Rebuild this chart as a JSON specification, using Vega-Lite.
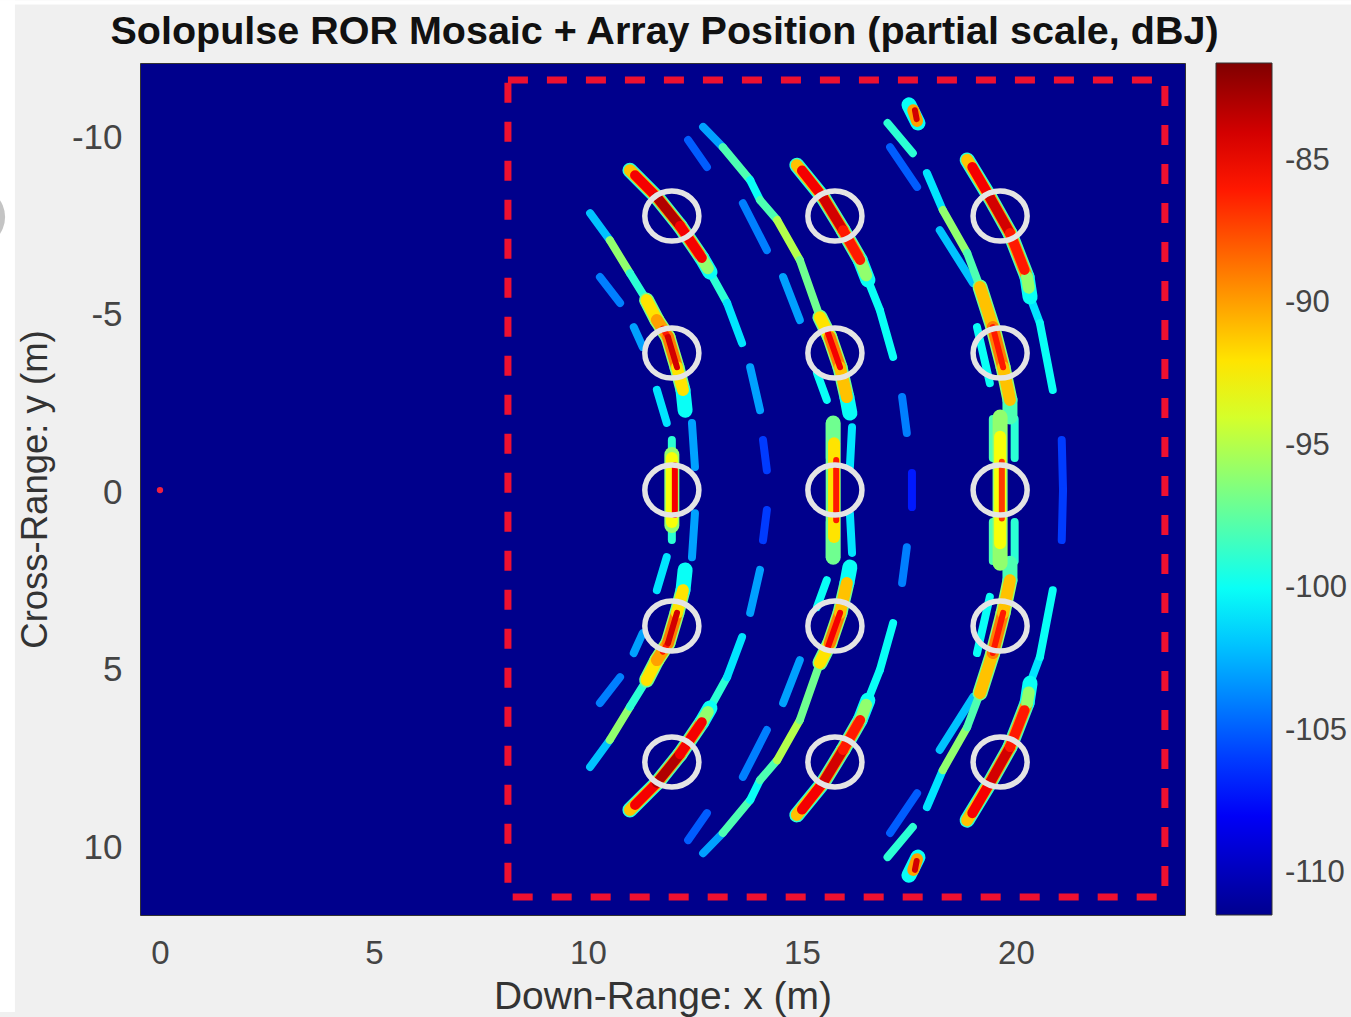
{"$schema":"https://vega.github.io/schema/vega-lite/v6.json","width":1045,"height":852,"autosize":{"type":"none"},"padding":{"left":140,"top":63,"right":166,"bottom":102},"background":"#f0f0f0","view":{"fill":"#00008c","stroke":"#333333"},
"title":{"text":"Solopulse ROR Mosaic + Array Position (partial scale, dBJ)","font":"Liberation Sans","fontSize":39.5,"fontWeight":"bold","color":"#111111","anchor":"middle","offset":-52,"dx":2},
"datasets":{
"side":[
{"x":12.85,"y":-6.14,"x2":13.25,"y2":-5.27,"dB":-99},{"x":13.25,"y":-5.27,"x2":13.6,"y2":-4.14,"dB":-101},{"x":13.79,"y":-3.46,"x2":14.02,"y2":-2.25,"dB":-103},{"x":14.09,"y":-1.41,"x2":14.18,"y2":-0.56,"dB":-106},
{"x":12.85,"y":6.14,"x2":13.25,"y2":5.27,"dB":-99},{"x":13.25,"y":5.27,"x2":13.6,"y2":4.14,"dB":-101},{"x":13.79,"y":3.46,"x2":14.02,"y2":2.25,"dB":-103},{"x":14.09,"y":1.41,"x2":14.18,"y2":0.56,"dB":-106},
{"x":10.28,"y":-6.0,"x2":10.75,"y2":-5.27,"dB":-104},{"x":11.07,"y":-4.59,"x2":11.28,"y2":-4.03,"dB":-103},{"x":11.61,"y":-2.82,"x2":11.84,"y2":-1.89,"dB":-101},{"x":12.43,"y":-1.89,"x2":12.5,"y2":-0.65,"dB":-103},
{"x":10.28,"y":6.0,"x2":10.75,"y2":5.27,"dB":-104},{"x":11.07,"y":4.59,"x2":11.28,"y2":4.03,"dB":-103},{"x":11.61,"y":2.82,"x2":11.84,"y2":1.89,"dB":-101},{"x":12.43,"y":1.89,"x2":12.5,"y2":0.65,"dB":-103},
{"x":10.05,"y":-7.8,"x2":10.51,"y2":-7.04,"dB":-102},{"x":10.51,"y":-7.04,"x2":10.98,"y2":-6.11,"dB":-96},{"x":10.98,"y":-6.11,"x2":11.37,"y2":-5.35,"dB":-99},
{"x":10.05,"y":7.8,"x2":10.51,"y2":7.04,"dB":-102},{"x":10.51,"y":7.04,"x2":10.98,"y2":6.11,"dB":-96},{"x":10.98,"y":6.11,"x2":11.37,"y2":5.35,"dB":-99},
{"x":16.54,"y":-5.92,"x2":16.82,"y2":-5.07,"dB":-100},{"x":16.82,"y":-5.07,"x2":17.13,"y2":-3.75,"dB":-100},{"x":17.34,"y":-2.62,"x2":17.45,"y2":-1.61,"dB":-104},{"x":17.57,"y":-0.48,"x2":17.57,"y2":0.48,"dB":-107},
{"x":16.54,"y":5.92,"x2":16.82,"y2":5.07,"dB":-100},{"x":16.82,"y":5.07,"x2":17.13,"y2":3.75,"dB":-100},{"x":17.34,"y":2.62,"x2":17.45,"y2":1.61,"dB":-104},
{"x":12.34,"y":-9.86,"x2":12.78,"y2":-9.1,"dB":-105},{"x":13.62,"y":-8.08,"x2":14.18,"y2":-6.76,"dB":-104},{"x":14.56,"y":-6.0,"x2":14.95,"y2":-4.79,"dB":-103},{"x":15.35,"y":-3.3,"x2":15.58,"y2":-2.54,"dB":-100},{"x":16.17,"y":-1.77,"x2":16.12,"y2":-0.65,"dB":-101},
{"x":12.34,"y":9.86,"x2":12.78,"y2":9.1,"dB":-105},{"x":13.62,"y":8.08,"x2":14.18,"y2":6.76,"dB":-104},{"x":14.56,"y":6.0,"x2":14.95,"y2":4.79,"dB":-103},{"x":15.35,"y":3.3,"x2":15.58,"y2":2.54,"dB":-100},{"x":16.17,"y":1.77,"x2":16.12,"y2":0.65,"dB":-101},
{"x":12.69,"y":-10.23,"x2":13.15,"y2":-9.66,"dB":-103},{"x":13.15,"y":-9.66,"x2":13.79,"y2":-8.73,"dB":-98},{"x":13.79,"y":-8.73,"x2":14.02,"y2":-8.17,"dB":-100},{"x":14.02,"y":-8.17,"x2":14.42,"y2":-7.61,"dB":-98},{"x":14.42,"y":-7.61,"x2":14.95,"y2":-6.48,"dB":-95},{"x":14.95,"y":-6.48,"x2":15.42,"y2":-4.87,"dB":-97},
{"x":12.69,"y":10.23,"x2":13.15,"y2":9.66,"dB":-103},{"x":13.15,"y":9.66,"x2":13.79,"y2":8.73,"dB":-98},{"x":13.79,"y":8.73,"x2":14.02,"y2":8.17,"dB":-100},{"x":14.02,"y":8.17,"x2":14.42,"y2":7.61,"dB":-98},{"x":14.42,"y":7.61,"x2":14.95,"y2":6.48,"dB":-95},{"x":14.95,"y":6.48,"x2":15.42,"y2":4.87,"dB":-97},
{"x":20.33,"y":-5.44,"x2":20.56,"y2":-4.7,"dB":-101},{"x":20.56,"y":-4.7,"x2":20.86,"y2":-2.82,"dB":-100},{"x":21.07,"y":-1.41,"x2":21.1,"y2":0.0,"dB":-106},
{"x":20.33,"y":5.44,"x2":20.56,"y2":4.7,"dB":-101},{"x":20.56,"y":4.7,"x2":20.86,"y2":2.82,"dB":-100},{"x":21.07,"y":1.41,"x2":21.1,"y2":0.0,"dB":-106},
{"x":18.22,"y":-7.32,"x2":19.0,"y2":-5.83,"dB":-102},{"x":19.09,"y":-4.59,"x2":19.39,"y2":-3.01,"dB":-100},{"x":17.0,"y":-10.34,"x2":17.59,"y2":-9.49,"dB":-99},{"x":17.06,"y":-9.66,"x2":17.69,"y2":-8.54,"dB":-105},
{"x":18.22,"y":7.32,"x2":19.0,"y2":5.83,"dB":-102},{"x":19.09,"y":4.59,"x2":19.39,"y2":3.01,"dB":-100},{"x":17.0,"y":10.34,"x2":17.59,"y2":9.49,"dB":-99},{"x":17.06,"y":9.66,"x2":17.69,"y2":8.54,"dB":-105},
{"x":17.92,"y":-8.93,"x2":18.29,"y2":-7.89,"dB":-101},{"x":18.29,"y":-7.89,"x2":18.86,"y2":-6.68,"dB":-96},{"x":18.86,"y":-6.68,"x2":19.16,"y2":-5.72,"dB":-98},
{"x":17.92,"y":8.93,"x2":18.29,"y2":7.89,"dB":-101},{"x":18.29,"y":7.89,"x2":18.86,"y2":6.68,"dB":-96},{"x":18.86,"y":6.68,"x2":19.16,"y2":5.72,"dB":-98},
{"x":19.46,"y":-2.0,"x2":19.46,"y2":-0.9,"dB":-98},{"x":19.97,"y":-2.0,"x2":19.97,"y2":-0.9,"dB":-99},{"x":19.46,"y":2.0,"x2":19.46,"y2":0.9,"dB":-98},{"x":19.97,"y":2.0,"x2":19.97,"y2":0.9,"dB":-99},
{"x":15.65,"y":-1.89,"x2":15.65,"y2":-0.9,"dB":-99},{"x":15.65,"y":1.89,"x2":15.65,"y2":0.9,"dB":-99},
{"x":11.96,"y":-1.41,"x2":11.96,"y2":-1.0,"dB":-99},{"x":11.96,"y":1.41,"x2":11.96,"y2":1.0,"dB":-99}
],
"wide":[
{"x":10.98,"y":-9.01,"x2":11.61,"y2":-8.25,"dB":-99},{"x":11.61,"y":-8.25,"x2":12.15,"y2":-7.44,"dB":-98},{"x":12.15,"y":-7.44,"x2":12.66,"y2":-6.54,"dB":-98},{"x":12.66,"y":-6.54,"x2":12.85,"y2":-6.14,"dB":-100},
{"x":10.98,"y":9.01,"x2":11.61,"y2":8.25,"dB":-99},{"x":11.61,"y":8.25,"x2":12.15,"y2":7.44,"dB":-98},{"x":12.15,"y":7.44,"x2":12.66,"y2":6.54,"dB":-98},{"x":12.66,"y":6.54,"x2":12.85,"y2":6.14,"dB":-100},
{"x":14.88,"y":-9.15,"x2":15.49,"y2":-8.25,"dB":-99},{"x":15.49,"y":-8.25,"x2":15.96,"y2":-7.32,"dB":-98},{"x":15.96,"y":-7.32,"x2":16.36,"y2":-6.48,"dB":-98},{"x":16.36,"y":-6.48,"x2":16.54,"y2":-5.92,"dB":-100},
{"x":14.88,"y":9.15,"x2":15.49,"y2":8.25,"dB":-99},{"x":15.49,"y":8.25,"x2":15.96,"y2":7.32,"dB":-98},{"x":15.96,"y":7.32,"x2":16.36,"y2":6.48,"dB":-98},{"x":16.36,"y":6.48,"x2":16.54,"y2":5.92,"dB":-100},
{"x":18.86,"y":-9.3,"x2":19.39,"y2":-8.25,"dB":-99},{"x":19.39,"y":-8.25,"x2":19.86,"y2":-7.24,"dB":-98},{"x":19.86,"y":-7.24,"x2":20.26,"y2":-6.0,"dB":-98},{"x":20.26,"y":-6.0,"x2":20.33,"y2":-5.44,"dB":-100},
{"x":18.86,"y":9.3,"x2":19.39,"y2":8.25,"dB":-99},{"x":19.39,"y":8.25,"x2":19.86,"y2":7.24,"dB":-98},{"x":19.86,"y":7.24,"x2":20.26,"y2":6.0,"dB":-98},{"x":20.26,"y":6.0,"x2":20.33,"y2":5.44,"dB":-100},
{"x":11.37,"y":-5.35,"x2":11.61,"y2":-4.79,"dB":-97},{"x":11.61,"y":-4.79,"x2":11.87,"y2":-4.31,"dB":-96},{"x":11.87,"y":-4.31,"x2":12.08,"y2":-3.46,"dB":-96},{"x":12.08,"y":-3.46,"x2":12.22,"y2":-2.82,"dB":-97},{"x":12.22,"y":-2.82,"x2":12.27,"y2":-2.25,"dB":-100},
{"x":11.37,"y":5.35,"x2":11.61,"y2":4.79,"dB":-97},{"x":11.61,"y":4.79,"x2":11.87,"y2":4.31,"dB":-96},{"x":11.87,"y":4.31,"x2":12.08,"y2":3.46,"dB":-96},{"x":12.08,"y":3.46,"x2":12.22,"y2":2.82,"dB":-97},{"x":12.22,"y":2.82,"x2":12.27,"y2":2.25,"dB":-100},
{"x":15.42,"y":-4.87,"x2":15.65,"y2":-4.31,"dB":-97},{"x":15.65,"y":-4.31,"x2":15.89,"y2":-3.46,"dB":-96},{"x":15.89,"y":-3.46,"x2":16.05,"y2":-2.62,"dB":-97},{"x":16.05,"y":-2.62,"x2":16.12,"y2":-2.17,"dB":-100},
{"x":15.42,"y":4.87,"x2":15.65,"y2":4.31,"dB":-97},{"x":15.65,"y":4.31,"x2":15.89,"y2":3.46,"dB":-96},{"x":15.89,"y":3.46,"x2":16.05,"y2":2.62,"dB":-97},{"x":16.05,"y":2.62,"x2":16.12,"y2":2.17,"dB":-100},
{"x":19.16,"y":-5.72,"x2":19.46,"y2":-4.59,"dB":-97},{"x":19.46,"y":-4.59,"x2":19.7,"y2":-3.46,"dB":-96},{"x":19.7,"y":-3.46,"x2":19.86,"y2":-2.54,"dB":-96},{"x":19.86,"y":-2.54,"x2":19.86,"y2":-2.06,"dB":-98},
{"x":19.16,"y":5.72,"x2":19.46,"y2":4.59,"dB":-97},{"x":19.46,"y":4.59,"x2":19.7,"y2":3.46,"dB":-96},{"x":19.7,"y":3.46,"x2":19.86,"y2":2.54,"dB":-96},{"x":19.86,"y":2.54,"x2":19.86,"y2":2.06,"dB":-98},
{"x":11.96,"y":-1.0,"x2":11.96,"y2":1.0,"dB":-96},{"x":15.73,"y":-1.89,"x2":15.73,"y2":1.89,"dB":-97},{"x":19.63,"y":-2.06,"x2":19.63,"y2":2.06,"dB":-96},
{"x":17.5,"y":-10.85,"x2":17.71,"y2":-10.34,"dB":-100},{"x":17.5,"y":10.85,"x2":17.71,"y2":10.34,"dB":-100}
],
"mid":[
{"x":10.98,"y":-9.01,"x2":11.61,"y2":-8.25,"dB":-91},{"x":11.61,"y":-8.25,"x2":12.15,"y2":-7.44,"dB":-90},{"x":12.15,"y":-7.44,"x2":12.66,"y2":-6.54,"dB":-90},{"x":12.66,"y":-6.54,"x2":12.8,"y2":-6.25,"dB":-96},
{"x":10.98,"y":9.01,"x2":11.61,"y2":8.25,"dB":-91},{"x":11.61,"y":8.25,"x2":12.15,"y2":7.44,"dB":-90},{"x":12.15,"y":7.44,"x2":12.66,"y2":6.54,"dB":-90},{"x":12.66,"y":6.54,"x2":12.8,"y2":6.25,"dB":-96},
{"x":14.88,"y":-9.15,"x2":15.49,"y2":-8.25,"dB":-91},{"x":15.49,"y":-8.25,"x2":15.96,"y2":-7.32,"dB":-90},{"x":15.96,"y":-7.32,"x2":16.36,"y2":-6.48,"dB":-90},{"x":16.36,"y":-6.48,"x2":16.5,"y2":-6.05,"dB":-96},
{"x":14.88,"y":9.15,"x2":15.49,"y2":8.25,"dB":-91},{"x":15.49,"y":8.25,"x2":15.96,"y2":7.32,"dB":-90},{"x":15.96,"y":7.32,"x2":16.36,"y2":6.48,"dB":-90},{"x":16.36,"y":6.48,"x2":16.5,"y2":6.05,"dB":-96},
{"x":18.86,"y":-9.3,"x2":19.39,"y2":-8.25,"dB":-91},{"x":19.39,"y":-8.25,"x2":19.86,"y2":-7.24,"dB":-90},{"x":19.86,"y":-7.24,"x2":20.26,"y2":-6.0,"dB":-90},{"x":20.26,"y":-6.0,"x2":20.3,"y2":-5.7,"dB":-96},
{"x":18.86,"y":9.3,"x2":19.39,"y2":8.25,"dB":-91},{"x":19.39,"y":8.25,"x2":19.86,"y2":7.24,"dB":-90},{"x":19.86,"y":7.24,"x2":20.26,"y2":6.0,"dB":-90},{"x":20.26,"y":6.0,"x2":20.3,"y2":5.7,"dB":-96},
{"x":11.37,"y":-5.35,"x2":11.61,"y2":-4.79,"dB":-92},{"x":11.61,"y":-4.79,"x2":11.87,"y2":-4.31,"dB":-90},{"x":11.87,"y":-4.31,"x2":12.08,"y2":-3.46,"dB":-89},{"x":12.08,"y":-3.46,"x2":12.22,"y2":-2.82,"dB":-92},
{"x":11.37,"y":5.35,"x2":11.61,"y2":4.79,"dB":-92},{"x":11.61,"y":4.79,"x2":11.87,"y2":4.31,"dB":-90},{"x":11.87,"y":4.31,"x2":12.08,"y2":3.46,"dB":-89},{"x":12.08,"y":3.46,"x2":12.22,"y2":2.82,"dB":-92},
{"x":15.42,"y":-4.87,"x2":15.65,"y2":-4.31,"dB":-92},{"x":15.65,"y":-4.31,"x2":15.89,"y2":-3.46,"dB":-89},{"x":15.89,"y":-3.46,"x2":16.05,"y2":-2.62,"dB":-91},
{"x":15.42,"y":4.87,"x2":15.65,"y2":4.31,"dB":-92},{"x":15.65,"y":4.31,"x2":15.89,"y2":3.46,"dB":-89},{"x":15.89,"y":3.46,"x2":16.05,"y2":2.62,"dB":-91},
{"x":19.16,"y":-5.72,"x2":19.46,"y2":-4.59,"dB":-91},{"x":19.46,"y":-4.59,"x2":19.7,"y2":-3.46,"dB":-89},{"x":19.7,"y":-3.46,"x2":19.86,"y2":-2.54,"dB":-91},
{"x":19.16,"y":5.72,"x2":19.46,"y2":4.59,"dB":-91},{"x":19.46,"y":4.59,"x2":19.7,"y2":3.46,"dB":-89},{"x":19.7,"y":3.46,"x2":19.86,"y2":2.54,"dB":-91},
{"x":11.96,"y":-0.9,"x2":11.96,"y2":0.9,"dB":-93},{"x":15.75,"y":-1.32,"x2":15.75,"y2":1.32,"dB":-92},{"x":19.63,"y":-1.5,"x2":19.63,"y2":1.5,"dB":-93},
{"x":17.6,"y":-10.7,"x2":17.69,"y2":-10.4,"dB":-90},{"x":17.6,"y":10.7,"x2":17.69,"y2":10.4,"dB":-90}
],
"core":[
{"x":11.1,"y":-8.87,"x2":11.61,"y2":-8.25,"dB":-85},{"x":11.61,"y":-8.25,"x2":12.15,"y2":-7.44,"dB":-83},{"x":12.15,"y":-7.44,"x2":12.66,"y2":-6.54,"dB":-85},
{"x":11.1,"y":8.87,"x2":11.61,"y2":8.25,"dB":-85},{"x":11.61,"y":8.25,"x2":12.15,"y2":7.44,"dB":-83},{"x":12.15,"y":7.44,"x2":12.66,"y2":6.54,"dB":-85},
{"x":15.0,"y":-9.0,"x2":15.49,"y2":-8.25,"dB":-85},{"x":15.49,"y":-8.25,"x2":15.96,"y2":-7.32,"dB":-84},{"x":15.96,"y":-7.32,"x2":16.36,"y2":-6.48,"dB":-86},
{"x":15.0,"y":9.0,"x2":15.49,"y2":8.25,"dB":-85},{"x":15.49,"y":8.25,"x2":15.96,"y2":7.32,"dB":-84},{"x":15.96,"y":7.32,"x2":16.36,"y2":6.48,"dB":-86},
{"x":18.98,"y":-9.1,"x2":19.39,"y2":-8.25,"dB":-85},{"x":19.39,"y":-8.25,"x2":19.86,"y2":-7.24,"dB":-84},{"x":19.86,"y":-7.24,"x2":20.2,"y2":-6.2,"dB":-86},
{"x":18.98,"y":9.1,"x2":19.39,"y2":8.25,"dB":-85},{"x":19.39,"y":8.25,"x2":19.86,"y2":7.24,"dB":-84},{"x":19.86,"y":7.24,"x2":20.2,"y2":6.2,"dB":-86}
],
"slim":[
{"x":11.75,"y":-4.55,"x2":11.87,"y2":-4.31,"dB":-86},{"x":11.87,"y":-4.31,"x2":12.08,"y2":-3.46,"dB":-84},{"x":11.75,"y":4.55,"x2":11.87,"y2":4.31,"dB":-86},{"x":11.87,"y":4.31,"x2":12.08,"y2":3.46,"dB":-84},
{"x":15.6,"y":-4.45,"x2":15.89,"y2":-3.46,"dB":-85},{"x":15.6,"y":4.45,"x2":15.89,"y2":3.46,"dB":-85},
{"x":19.46,"y":-4.59,"x2":19.7,"y2":-3.46,"dB":-86},{"x":19.46,"y":4.59,"x2":19.7,"y2":3.46,"dB":-86},
{"x":12.03,"y":-0.7,"x2":12.03,"y2":0.7,"dB":-85},{"x":15.8,"y":-0.85,"x2":15.8,"y2":0.85,"dB":-86},{"x":19.67,"y":-0.8,"x2":19.67,"y2":0.8,"dB":-87},
{"x":17.64,"y":-10.7,"x2":17.68,"y2":-10.45,"dB":-84},{"x":17.64,"y":10.7,"x2":17.68,"y2":10.45,"dB":-84}
],
"elements":[
{"x":11.96,"y":-7.72},{"x":11.96,"y":-3.86},{"x":11.96,"y":0},{"x":11.96,"y":3.83},{"x":11.96,"y":7.66},
{"x":15.77,"y":-7.72},{"x":15.77,"y":-3.86},{"x":15.77,"y":0},{"x":15.77,"y":3.83},{"x":15.77,"y":7.66},
{"x":19.63,"y":-7.72},{"x":19.63,"y":-3.86},{"x":19.63,"y":0},{"x":19.63,"y":3.83},{"x":19.63,"y":7.66}
],
"margin":[{"x":-3.74,"x2":-3.39,"y":-13.8,"y2":14.7},{"x":-3.74,"x2":27.84,"y":-13.8,"y2":-13.68}]
},
"data":{"name":"elements"},
"encoding":{
"x":{"field":"x","type":"quantitative","scale":{"domain":[-0.467,23.95],"nice":false,"zero":false},"axis":{"values":[0,5,10,15,20],"title":"Down-Range: x (m)","grid":false,"domain":false,"ticks":false,"labelFont":"Liberation Sans","labelFontSize":33,"labelColor":"#444444","labelPadding":22,"titleFont":"Liberation Sans","titleFontSize":39,"titleFontWeight":"normal","titleColor":"#333333","titlePadding":7}},
"y":{"field":"y","type":"quantitative","scale":{"domain":[-12.03,11.97],"reverse":true,"nice":false,"zero":false},"axis":{"values":[-10,-5,0,5,10],"labelExpr":"''+datum.value","title":"Cross-Range: y (m)","grid":false,"domain":false,"ticks":false,"labelFont":"Liberation Sans","labelFontSize":35,"labelColor":"#444444","labelPadding":18,"labelOffset":2,"titleFont":"Liberation Sans","titleFontSize":36.5,"titleFontWeight":"normal","titleColor":"#333333","titlePadding":17}}
},
"layer":[
{"data":{"name":"margin"},"mark":{"type":"rect","fill":"#ffffff","clip":false},"encoding":{"x2":{"field":"x2"},"y2":{"field":"y2"}}},
{"data":{"values":[{"x":-4.32,"y":-7.69}]},"mark":{"type":"point","shape":"circle","filled":true,"color":"#c4c4c4","size":3600,"opacity":1}},
{"encoding":{
"x2":{"field":"x2"},"y2":{"field":"y2"},
"color":{"field":"dB","type":"quantitative","scale":{"domain":[-111.47,-107.73,-100.25,-92.78,-85.3,-81.56],"range":["#00008f","#0000ff","#00ffff","#ffff00","#ff0000","#800000"],"interpolate":"rgb"},"legend":{"orient":"none","legendX":1076,"legendY":0,"title":null,"type":"gradient","direction":"vertical","gradientLength":852,"gradientThickness":56,"gradientStrokeColor":"#333333","gradientStrokeWidth":1,"values":[-110,-105,-100,-95,-90,-85],"labelExpr":"''+datum.value","labelFont":"Liberation Sans","labelFontSize":31,"labelColor":"#444444","labelOffset":13}}},
"layer":[
{"data":{"name":"side"},"mark":{"type":"rule","strokeWidth":8,"strokeCap":"round"}},
{"data":{"name":"wide"},"mark":{"type":"rule","strokeWidth":15,"strokeCap":"round"}},
{"data":{"name":"mid"},"mark":{"type":"rule","strokeWidth":12,"strokeCap":"round"}},
{"data":{"name":"core"},"mark":{"type":"rule","strokeWidth":10,"strokeCap":"round"}},
{"data":{"name":"slim"},"mark":{"type":"rule","strokeWidth":6,"strokeCap":"round"}}
]},
{"data":{"values":[{"x":8.13,"x2":23.48,"y":-11.55,"y2":11.46}]},"mark":{"type":"rect","fillOpacity":0,"stroke":"#ee1030","strokeWidth":7,"strokeDash":[20,19]},"encoding":{"x2":{"field":"x2"},"y2":{"field":"y2"}}},
{"data":{"values":[{"x":0,"y":0}]},"mark":{"type":"point","filled":true,"color":"#ee2040","size":40,"opacity":1}},
{"mark":{"type":"point","shape":"M -1.04 0 A 1.04 0.96 0 1 1 1.04 0 A 1.04 0.96 0 1 1 -1.04 0 Z","size":2704,"filled":false,"stroke":"#e4e4e4","strokeWidth":5.5,"opacity":1}}
]}
